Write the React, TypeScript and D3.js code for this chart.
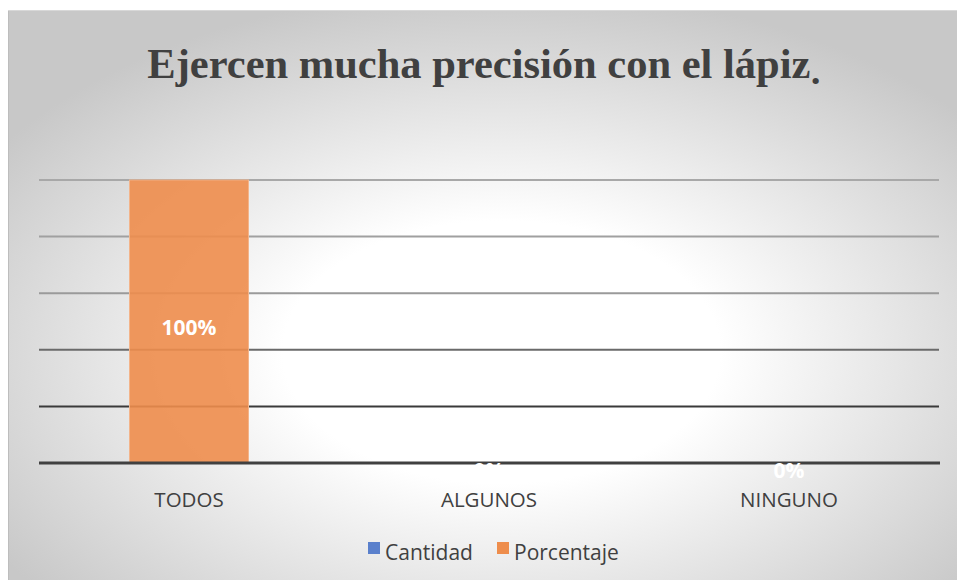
import React from "react";
import * as d3 from "d3";

const categories = ["TODOS", "ALGUNOS", "NINGUNO"];
const cantidad = [0, 0, 0];
const porcentaje = [1, 0, 0];
const yTicks = [0, 0.2, 0.4, 0.6, 0.8, 1];
const gridColors = ["#404040", "#3a3a3a", "#6a6a6a", "#9a9a9a", "#a0a0a0", "#a8a8a8"];
const seriesNames = ["Cantidad", "Porcentaje"];
const seriesColors = ["#5a80cc", "#ee8d4c"];
const title = "Ejercen mucha precisión con el lápiz";

export default function App() {
  const W = 957;
  const H = 580;
  const x = d3.scaleBand<string>().domain(categories).range([39, 939]);
  const y = d3.scaleLinear().domain([0, 1]).range([463, 180]);
  const barW = 119;
  const fmt = d3.format(".0%");
  const sans = "'Open Sans', 'Noto Sans', sans-serif";

  return (
    <svg width={W} height={H} style={{ position: "absolute", left: 0, top: 0 }}>
      <defs>
        <radialGradient id="bg" cx="52%" cy="60%" r="64%">
          <stop offset="0%" stopColor="#ffffff" />
          <stop offset="36%" stopColor="#ffffff" />
          <stop offset="100%" stopColor="#c8c8c8" />
        </radialGradient>
      </defs>
      <rect x={0} y={0} width={W} height={H} fill="#ffffff" />
      <rect x={8} y={10} width={W - 8} height={H - 10} fill="url(#bg)" />
      <line x1={8.5} y1={10} x2={8.5} y2={H} stroke="#bdbdbd" strokeWidth={1} />
      <line x1={8} y1={10.5} x2={W} y2={10.5} stroke="#d8d8d8" strokeWidth={1} />

      <text
        x={484}
        y={78}
        textAnchor="middle"
        fontFamily="'Liberation Serif', 'Times New Roman', serif"
        fontWeight="bold"
        fontSize={42.5}
        fill="#404040"
      >
        {title}
        <tspan fontFamily={sans} fontSize={36} dy={6}>.</tspan>
      </text>

      {yTicks.slice(1).map((t, i) => (
        <line
          key={t}
          x1={39}
          x2={939}
          y1={y(t)}
          y2={y(t)}
          stroke={gridColors[i + 1]}
          strokeWidth={2}
        />
      ))}

      {categories.map((c, i) => {
        const cx = (x(c) as number) + x.bandwidth() / 2;
        return (
          <g key={c}>
            <rect
              x={cx - barW / 2}
              y={y(cantidad[i])}
              width={barW}
              height={y(0) - y(cantidad[i])}
              fill={seriesColors[0]}
              fillOpacity={0.88}
            />
            <rect
              x={cx - barW / 2}
              y={y(porcentaje[i])}
              width={barW}
              height={y(0) - y(porcentaje[i])}
              fill={seriesColors[1]}
              fillOpacity={0.9}
              stroke={porcentaje[i] > 0 ? "#f3b48a" : "none"}
              strokeWidth={1}
            />
          </g>
        );
      })}

      <line x1={39} x2={940} y1={y(0)} y2={y(0)} stroke="#404040" strokeWidth={3} />

      {categories.map((c, i) => {
        const cx = (x(c) as number) + x.bandwidth() / 2;
        const v = porcentaje[i];
        const ly = v > 0 ? (y(v) + y(0)) / 2 + 13.5 : y(0) + 15;
        return (
          <text
            key={c + "l"}
            x={cx}
            y={ly}
            textAnchor="middle"
            fontFamily={sans}
            fontWeight="bold"
            fontSize={21}
            fill="#ffffff"
          >
            {fmt(v)}
          </text>
        );
      })}

      {categories.map((c) => (
        <text
          key={c + "c"}
          x={(x(c) as number) + x.bandwidth() / 2}
          y={507}
          textAnchor="middle"
          fontFamily={sans}
          fontSize={20.5}
          fill="#404040"
        >
          {c}
        </text>
      ))}

      {seriesNames.map((s, i) => {
        const lx = [368, 497][i];
        return (
          <g key={s}>
            <rect x={lx} y={542} width={12} height={12} fill={seriesColors[i]} />
            <text x={lx + 17} y={560} fontFamily={sans} fontSize={21} fill="#404040">
              {s}
            </text>
          </g>
        );
      })}
    </svg>
  );
}
